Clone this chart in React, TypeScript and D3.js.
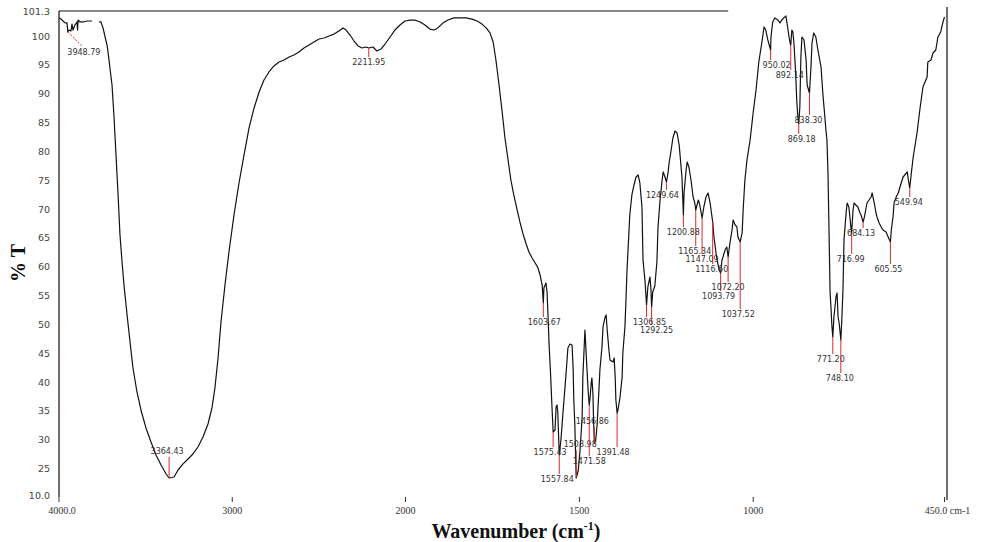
import React from "react";
import * as d3 from "d3";

// FT-IR spectrum: [wavenumber (cm-1), %T]; null marks a break in the trace
const spectrum: [number, number | null][] = [
  [4000, 100.94], [3988, 100.88], [3977, 100.78], [3965, 100.68], [3954, 100.68],
  [3948.79, 100.21], [3942, 100.31], [3931, 100.26], [3925, 100.62], [3919, 100.31],
  [3908, 100.57], [3896, 100.73], [3893, 100.31], [3890, 100.83], [3879, 100.73],
  [3861, 100.73], [3838, 100.78], [3810, 100.78], [3790, null],
  [3769, 100.73], [3758, 100.73], [3746, 100.42], [3734, 99.83], [3723, 98.44],
  [3717, 97.23], [3706, 94.45], [3694, 91.5], [3683, 86.3], [3671, 79.37],
  [3659, 72.43], [3648, 65.49], [3636, 60.81], [3625, 56.82], [3607, 51.62],
  [3590, 46.94], [3573, 42.43], [3550, 38.27], [3527, 35.15], [3498, 32.03],
  [3469, 29.6], [3440, 27.35], [3411, 25.61], [3382, 21.89], [3364.43, 19.62],
  [3336, 20.19], [3313, 24.15], [3284, 25.79], [3255, 26.65], [3227, 27.52],
  [3198, 28.73], [3169, 30.47], [3140, 32.72], [3117, 35.5], [3100, 38.96],
  [3082, 44.17], [3065, 50.41], [3042, 56.82], [3019, 62.55], [2990, 68.96],
  [2961, 74.51], [2932, 79.37], [2903, 84.05], [2874, 87.52], [2845, 90.29],
  [2817, 92.37], [2788, 93.76], [2759, 94.8], [2730, 95.49], [2701, 95.84],
  [2672, 96.36], [2644, 96.71], [2615, 97.23], [2586, 97.92], [2557, 98.44],
  [2528, 98.96], [2499, 99.48], [2470, 99.65], [2442, 100.0], [2413, 100.1],
  [2384, 100.26], [2361, 100.42], [2343, 100.31], [2320, 100.05], [2297, 99.13],
  [2274, 98.27], [2251, 97.92], [2228, 98.09], [2211.95, 97.92], [2188, 98.09],
  [2165, 97.4], [2141, 97.75], [2118, 98.61], [2089, 99.83], [2061, 100.31],
  [2032, 100.57], [2003, 100.78], [1987, 100.83], [1973, 100.83], [1958, 100.73],
  [1944, 100.57], [1930, 100.36], [1918, 100.31], [1907, 100.42], [1892, 100.68],
  [1878, 100.83], [1861, 100.94], [1843, 100.94], [1826, 100.94], [1809, 100.88],
  [1794, 100.78], [1780, 100.62], [1768, 100.42], [1757, 100.16], [1748, 98.96],
  [1740, 95.84], [1731, 91.5], [1722, 86.82], [1714, 82.31], [1705, 78.5],
  [1697, 75.03], [1688, 72.26], [1679, 69.83], [1671, 67.75], [1662, 65.67],
  [1653, 63.93], [1645, 62.55], [1636, 61.51], [1627, 60.64], [1619, 59.77],
  [1613, 58.56], [1607, 56.82], [1603.67, 53.7], [1602, 56.3], [1596, 57.17],
  [1593, 55.61], [1590, 51.27], [1587, 46.42], [1583, 41.57], [1579, 36.01],
  [1575.43, 31.33], [1570, 31.68], [1567, 35.67], [1564, 36.01], [1562, 34.63],
  [1557.84, 27.35], [1553, 29.95], [1547, 34.8], [1539, 40.87], [1533, 45.9],
  [1527, 46.59], [1521, 46.42], [1518, 42.43], [1516, 36.88], [1513, 32.55],
  [1511, 27.35], [1508.98, 19.62], [1503, 24.15], [1498, 28.21], [1492, 33.93],
  [1490, 40.87], [1484, 49.02], [1481, 45.55], [1478, 42.08], [1475, 38.62],
  [1471.58, 36.01], [1469, 37.4], [1466, 39.83], [1464, 40.7], [1461, 38.0],
  [1459, 33.0], [1456.86, 29.43], [1453, 29.95], [1449, 32.55], [1446, 36.01],
  [1443, 39.48], [1441, 42.08], [1435, 46.07], [1432, 49.54], [1426, 51.27],
  [1423, 51.62], [1420, 49.02], [1415, 45.55], [1412, 43.82], [1403, 43.47],
  [1400, 44.17], [1397, 40.87], [1395, 36.88], [1391.48, 34.63], [1389, 35.15],
  [1383, 37.4], [1377, 40.87], [1375, 45.03], [1369, 49.54], [1366, 54.22],
  [1363, 59.42], [1360, 62.89], [1355, 68.96], [1349, 72.43], [1343, 74.16],
  [1337, 75.55], [1331, 75.9], [1326, 74.51], [1320, 70.35], [1317, 61.16],
  [1311, 57.34], [1306.85, 53.35], [1303, 56.48], [1297, 58.21], [1294, 55.96],
  [1292.25, 53.01], [1289, 55.61], [1283, 56.65], [1277, 60.81], [1274, 66.71],
  [1268, 71.56], [1262, 75.03], [1259, 76.42], [1254, 75.55], [1249.64, 74.68],
  [1245, 76.24], [1242, 77.98], [1236, 80.23], [1231, 82.31], [1225, 83.53],
  [1219, 83.18], [1213, 81.1], [1208, 77.63], [1205, 75.55], [1200.88, 68.96],
  [1199, 72.78], [1193, 76.76], [1190, 78.15], [1185, 77.28], [1179, 75.03],
  [1173, 72.08], [1168, 71.04], [1165.34, 69.83], [1158, 71.56], [1155, 71.04],
  [1150, 69.48], [1147.09, 68.44], [1142, 70.35], [1136, 72.08], [1130, 72.78],
  [1124, 71.04], [1116.6, 67.75], [1113, 65.15], [1107, 62.37], [1104, 61.16],
  [1098, 59.42], [1093.79, 58.9], [1090, 61.16], [1087, 61.68], [1081, 62.89],
  [1076, 63.41], [1072.2, 61.68], [1067, 64.11], [1061, 66.36], [1058, 68.09],
  [1052, 67.23], [1047, 66.88], [1044, 65.15], [1037.52, 64.28], [1032, 65.84],
  [1029, 69.83], [1024, 75.03], [1018, 78.5], [1009, 81.97], [1001, 86.3],
  [992, 90.64], [984, 95.49], [975, 98.96], [969, 100.47], [964, 100.31],
  [958, 99.31], [950.02, 97.57], [949, 99.83], [944, 100.73], [938, 100.94],
  [929, 100.83], [923, 100.68], [918, 100.83], [912, 100.94], [906, 101.04],
  [903, 100.68], [897, 99.83], [894, 98.79], [892.14, 98.44], [889, 100.31],
  [886, 100.21], [883, 98.79], [878, 93.58], [875, 88.9], [872, 86.3],
  [869.18, 84.74], [866, 87.69], [863, 96.36], [860, 99.83], [854, 99.31],
  [848, 95.84], [845, 91.5], [838.3, 90.12], [834, 94.62], [831, 98.79],
  [826, 100.16], [820, 99.83], [814, 97.57], [805, 94.62], [800, 90.12],
  [794, 85.95], [791, 83.7], [788, 81.97], [785, 76.24], [782, 65.84],
  [779, 55.44], [776, 52.49], [774, 49.89], [771.2, 47.81], [768, 51.27],
  [762, 54.74], [759, 55.44], [756, 51.27], [753, 50.23], [748.1, 47.29],
  [745, 51.27], [742, 55.96], [739, 64.63], [733, 69.31], [730, 71.04],
  [725, 70.35], [722, 68.61], [719, 66.71], [716.99, 65.84], [713, 69.83],
  [710, 71.04], [705, 70.7], [699, 70.35], [693, 69.31], [690, 68.96],
  [684.13, 67.75], [681, 68.44], [678, 69.31], [673, 71.04], [667, 71.56],
  [661, 72.08], [658, 72.78], [652, 71.04], [647, 69.31], [644, 68.61],
  [638, 67.57], [632, 66.88], [627, 66.36], [618, 66.01], [612, 65.15],
  [605.55, 64.28], [603, 66.36], [598, 68.61], [595, 71.04], [589, 72.08],
  [583, 72.78], [578, 73.82], [569, 75.55], [557, 76.42], [554, 75.03],
  [549.94, 73.64], [546, 75.9], [540, 79.02], [529, 83.18], [521, 87.17],
  [512, 91.16], [500, 92.89], [498, 95.49], [489, 95.84], [483, 97.05],
  [475, 97.57], [469, 99.83], [461, 100.21], [455, 100.68], [450, 100.99],
];

const yTickValues = [101.3, 100, 95, 90, 85, 80, 75, 70, 65, 60, 55, 50, 45, 40, 35, 30, 25, 10];
const yTickLabels = ["101.3", "100", "95", "90", "85", "80", "75", "70", "65", "60", "55", "50", "45", "40", "35", "30", "25", "10.0"];
const xTickValues = [4000, 3000, 2000, 1500, 1000, 450];
const xTickLabels = ["4000.0", "3000", "2000", "1500", "1000", "450.0 cm-1"];

// peak annotations
const peakLabels = [
  "3948.79", "3364.43", "2211.95", "1603.67", "1575.43", "1557.84", "1508.98", "1471.58",
  "1456.86", "1391.48", "1306.85", "1292.25", "1249.64", "1200.88", "1165.34", "1147.09",
  "1116.60", "1093.79", "1072.20", "1037.52", "950.02", "892.14", "869.18", "838.30",
  "771.20", "748.10", "716.99", "684.13", "605.55", "549.94",
];
const peakWn = peakLabels.map(Number);
const peakT = [
  100.21, 19.62, 97.92, 53.7, 31.33, 27.35, 19.62, 36.01, 29.43, 34.63, 53.35, 53.01, 74.68,
  68.96, 69.83, 68.44, 67.75, 58.9, 61.68, 64.28, 97.57, 98.44, 84.74, 90.12, 47.81, 47.29,
  65.84, 67.75, 64.28, 73.64,
];
const peakEndT = [
  98.09, 27.0, 96.36, 51.27, 28.73, 21.89, 28.21, 27.17, 32.2, 28.73, 51.27, 49.89, 73.3,
  66.88, 63.59, 62.2, 60.46, 55.78, 57.34, 52.66, 95.84, 94.1, 83.01, 86.3, 44.86, 41.56,
  62.2, 66.71, 60.46, 72.08,
];

// annotation layout (px offsets)
const peakLineDx = [15, 0, 0, 0, 0, 0, 0, 0, 0, 0, 0, 0, 0, 0, 0, 0, 0, 0, 0, 0, 0, 0, 0, 0, 0, 0, 0, 0, 0, 0];
const peakLabelDx = [1, -2, 0, 1, -3, -2, 4, 0, -2, -4, 3, 5, -4, 0, -1, 0, -1, -2, 0, -2, 6, -1, 3, -1, -2, -1, -1, -2, -2, -1];

const W = 989;
const H = 542;

export default function App() {
  const x = d3.scaleLinear().domain([4000, 2000, 450]).range([59, 405.5, 944.5]);
  const y = d3.scaleLinear().domain([10, 25, 100, 101.3]).range([495, 468.5, 36, 11]);

  const line = d3
    .line<[number, number | null]>()
    .defined((d) => d[1] !== null)
    .x((d) => x(d[0]))
    .y((d) => y(d[1] as number));

  const serif = "'Liberation Serif', 'Times New Roman', serif";
  const sans = "'DejaVu Sans', Verdana, sans-serif";
  const top = y(101.3);
  const rightX = x(450) + 2.5;

  return (
    <svg
      width={W}
      height={H}
      style={{ position: "absolute", left: 0, top: 0, background: "#fff" }}
    >
      <rect x={0} y={0} width={W} height={H} fill="#fff" />
      {/* frame */}
      <line x1={x(4000)} x2={x(1072)} y1={top} y2={top} stroke="#111" strokeWidth={1.2} />
      <line x1={x(4000)} x2={x(4000)} y1={top} y2={497} stroke="#111" strokeWidth={1.2} />
      <line x1={rightX} x2={rightX} y1={7} y2={500} stroke="#111" strokeWidth={1.2} />

      {/* y tick labels */}
      {yTickValues.map((v, i) => (
        <text
          key={"yt" + i}
          x={50}
          y={y(v) + 3.5}
          textAnchor="end"
          fontFamily={sans}
          fontSize={9.5}
          fill="#444"
        >
          {yTickLabels[i]}
        </text>
      ))}

      {/* x ticks */}
      {xTickValues.map((v, i) => (
        <g key={"xt" + i}>
          <line x1={x(v)} x2={x(v)} y1={497} y2={502} stroke="#333" strokeWidth={1} />
          <text
            x={x(v) + (i === 0 ? 3 : i === xTickValues.length - 1 ? 3 : 0)}
            y={514}
            textAnchor="middle"
            fontFamily={serif}
            fontSize={10}
            fill="#333"
          >
            {xTickLabels[i]}
          </text>
        </g>
      ))}

      {/* spectrum */}
      <path d={line(spectrum) || ""} fill="none" stroke="#111" strokeWidth={1.2} strokeLinejoin="round" />

      {/* peak markers */}
      {peakLabels.map((lab, i) => {
        const x0 = x(peakWn[i]);
        const y0 = y(peakT[i]);
        const x1 = x0 + peakLineDx[i];
        const y1 = y(peakEndT[i]);
        const above = y1 < y0;
        return (
          <g key={"pk" + i}>
            <line
              x1={x0}
              y1={y0}
              x2={x1}
              y2={y1}
              stroke="#d42a2a"
              strokeWidth={1}
              strokeDasharray={peakLineDx[i] !== 0 ? "2,1.5" : undefined}
            />
            <text
              x={x1 + peakLabelDx[i]}
              y={above ? y1 - 3 : y1 + 8}
              textAnchor="middle"
              fontFamily={sans}
              fontSize={8}
              fill="#333"
            >
              {lab}
            </text>
          </g>
        );
      })}

      {/* axis titles */}
      <text
        transform="translate(25,263) rotate(-90)"
        textAnchor="middle"
        fontFamily={serif}
        fontWeight="bold"
        fontSize={20}
        fill="#111"
      >
        % T
      </text>
      <text x={516} y={538} textAnchor="middle" fontFamily={serif} fontWeight="bold" fontSize={20} fill="#111">
        Wavenumber (cm
        <tspan fontSize={12} dy={-8}>-1</tspan>
        <tspan dy={8}>)</tspan>
      </text>
    </svg>
  );
}
